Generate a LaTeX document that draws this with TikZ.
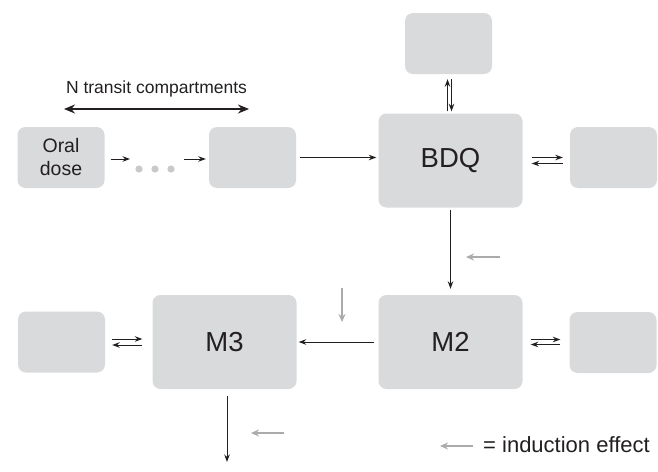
\documentclass[tikz,border=0pt]{standalone}
\usepackage{fontspec}
\setmainfont{Liberation Sans}
\usetikzlibrary{arrows.meta,calc}
\definecolor{boxfill}{HTML}{D9DADC}
\definecolor{ink}{HTML}{231F20}
\definecolor{induce}{HTML}{ABABAB}
\definecolor{dotgrey}{HTML}{C8C9CB}
\tikzset{
  comp/.style={rectangle, rounded corners=8pt, fill=boxfill, draw=none, inner sep=0pt},
  small/.style={comp, minimum width=87pt, minimum height=61pt},
  big/.style={comp, minimum width=144pt, minimum height=94pt, font=\fontsize{27.5}{30}\selectfont, text=ink},
  arr/.style={draw=ink, line width=1pt, -{Stealth[length=7.5pt,width=5.5pt]}},
  indarr/.style={draw=induce, line width=1.6pt, -{Stealth[length=8pt,width=7pt]}},
}
\begin{document}
\begin{tikzpicture}[x=1pt,y=-1pt]
\useasboundingbox (0,0) rectangle (658,471);

% compartments
\node[small, font=\fontsize{19.5}{23}\selectfont, text=ink, align=center] (oral) at (61,157.5) {Oral\\dose};
\node[small] (tr) at (252.5,157.5) {};
\node[big] (bdq) at (450.5,160.5) {BDQ};
\node[small] (top) at (448.5,43.5) {};
\node[small] (rb) at (613.5,157.5) {};
\node[big] (m2) at (450.5,342) {M2};
\node[small] (m2r) at (613,342.5) {};
\node[big] (m3) at (224.5,342) {M3};
\node[small] (m3l) at (61.5,342) {};

% transit chain
\coordinate (d1) at (139,169);
\coordinate (d2) at (155,169);
\coordinate (d3) at (171,169);
\foreach \d in {d1,d2,d3} \fill[dotgrey] (\d) circle (3.6pt);
\coordinate (a1e) at (130,159);
\coordinate (a2s) at (184,159);
\draw[arr] ([xshift=6pt,yshift=-1.5pt]oral.east) -- (a1e);
\draw[arr] (a2s) -- ([xshift=-3pt,yshift=-1.5pt]tr.west);
\draw[arr, shorten <=4pt, shorten >=2pt] (tr.east) -- (tr.east -| bdq.west);

% N transit compartments span
\coordinate (nl) at (64,109);
\coordinate (nr) at (249,109);
\draw[draw=ink, line width=2pt, {Stealth[length=11pt,width=9pt]}-{Stealth[length=11pt,width=9pt]}] (nl) -- (nr);
\node[font=\fontsize{17.5}{20}\selectfont, text=ink] (nlab) at (156.5,89) {N transit compartments};

% BDQ exchanges (up on the left, down on the right)
\draw[arr, shorten <=2pt, shorten >=5pt] ([xshift=-3pt]bdq.north) -- ([xshift=-3pt]bdq.north |- top.south);
\draw[arr, shorten <=5pt, shorten >=2pt] ([xshift=3pt]top.south) -- ([xshift=3pt]top.south |- bdq.north);
\draw[arr, shorten <=9pt, shorten >=7pt] ([yshift=3pt]bdq.east) -- ([yshift=3pt]bdq.east -| rb.west);
\draw[arr, shorten <=7pt, shorten >=9pt] ([yshift=-3pt]bdq.east -| rb.west) -- ([yshift=-3pt]bdq.east);

% metabolism
\draw[arr, shorten <=2pt, shorten >=6pt] (bdq.south) -- (m2.north);
\draw[arr, shorten <=4pt, shorten >=2pt] (m2.west) -- (m3.east);

% M2 exchange
\draw[arr, shorten <=8pt, shorten >=9pt] ([yshift=2.5pt]m2.east) -- ([yshift=2.5pt]m2.east -| m2r.west);
\draw[arr, shorten <=9pt, shorten >=8pt] ([yshift=-2.5pt]m2.east -| m2r.west) -- ([yshift=-2.5pt]m2.east);

% M3 exchange and elimination
\draw[arr, shorten <=7pt, shorten >=10pt] ([yshift=3pt]m3l.east) -- ([yshift=3pt]m3l.east -| m3.west);
\draw[arr, shorten <=10pt, shorten >=7pt] ([yshift=-3pt]m3l.east -| m3.west) -- ([yshift=-3pt]m3l.east);
\coordinate (out) at (227,462);
\draw[arr, shorten <=7pt] (m3.south -| out) -- (out);

% induction effects
\draw[indarr] (500,257) -- (466,257);
\draw[indarr] (342,288) -- (342,322);
\draw[indarr] (284,433) -- (251,433);

% legend
\draw[indarr] (473,446) -- (440,446);
\node[anchor=west, font=\fontsize{22}{26}\selectfont, text=ink, inner sep=0pt] (leg) at (483,445) {= induction effect};
\end{tikzpicture}
\end{document}
